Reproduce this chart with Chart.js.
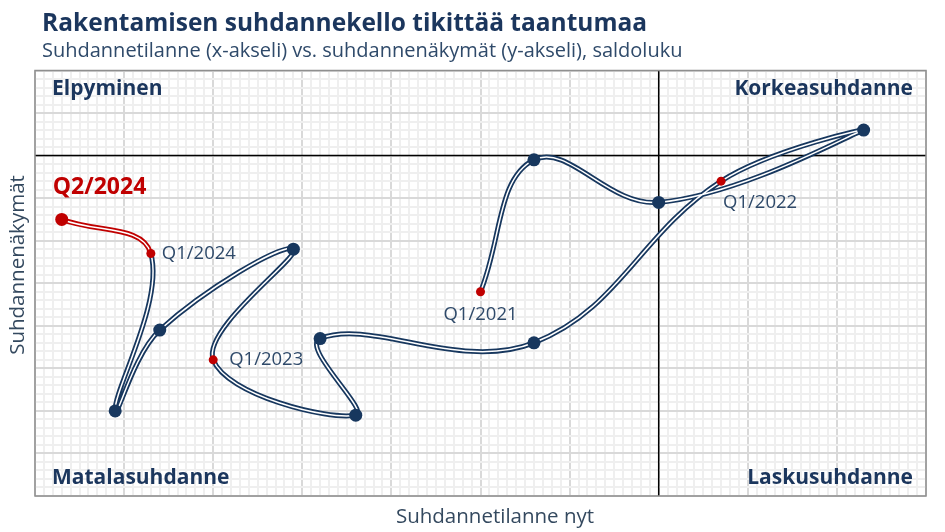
<!DOCTYPE html>
<html>
<head>
<meta charset="utf-8">
<script src="https://cdn.jsdelivr.net/npm/chart.js@4.4.1/dist/chart.umd.min.js"></script>
<style>
  html, body { margin: 0; padding: 0; background: #fff; }
</style>
</head>
<body>
<canvas id="clock" width="945" height="532"></canvas>
<script>
// quarters, in drawing order
const periods = ['Q1/2021', 'Q2/2021', 'Q3/2021', 'Q4/2021',
                 'Q1/2022', 'Q2/2022', 'Q3/2022', 'Q4/2022',
                 'Q1/2023', 'Q2/2023', 'Q3/2023', 'Q4/2023',
                 'Q1/2024', 'Q2/2024'];
// x: suhdannetilanne nyt, y: suhdannenäkymät (saldoluku)
const situationNow = [-20, -14, 0, 23, 7, -14, -38, -34, -50, -41, -56, -61, -57, -67];
const outlook = [-32, -1, -11, 6, -6, -44, -43, -61, -48, -22, -41, -60, -23, -15];
const quadrants = ['Elpyminen', 'Korkeasuhdanne', 'Matalasuhdanne', 'Laskusuhdanne'];

const navy = '#17375e';
const red = '#c00000';
const last = periods.length - 1;
const isQ1 = periods.map(p => p.startsWith('Q1'));

const points = situationNow.map((v, i) => ({ x: v, y: outlook[i] }));

// where the period labels sit relative to their dot
const labelSpots = {
    0: { dx: 0, dy: 23, align: 'center' },
    4: { dx: 2, dy: 22, align: 'left' },
    8: { dx: 16, dy: 0, align: 'left' },
    12: { dx: 11, dy: 0, align: 'left' },
    13: { dx: -9, dy: -32, align: 'left', bold: true }
};

const frameAndAxes = {
    id: 'frameAndAxes',
    beforeDatasetsDraw(chart) {
        const { ctx, chartArea: a, scales: { x, y } } = chart;
        const x0 = x.getPixelForValue(0);
        const y0 = y.getPixelForValue(0);
        ctx.save();
        ctx.strokeStyle = '#000';
        ctx.lineWidth = 1.5;
        ctx.beginPath();
        ctx.moveTo(x0, a.top); ctx.lineTo(x0, a.bottom);
        ctx.moveTo(a.left, y0); ctx.lineTo(a.right, y0);
        ctx.stroke();
        ctx.strokeStyle = '#8f8f8f';
        ctx.strokeRect(a.left, a.top, a.width, a.height);
        ctx.restore();
    }
};

const texts = {
    id: 'texts',
    afterDraw(chart) {
        const { ctx, chartArea: a, scales: { x, y } } = chart;
        ctx.save();
        ctx.textBaseline = 'alphabetic';
        ctx.textAlign = 'left';
        ctx.fillStyle = '#1b365d';
        ctx.font = 'bold 24.5px "Open Sans"';
        ctx.fillText('Rakentamisen suhdannekello tikittää taantumaa', 42, 31);
        ctx.fillStyle = '#2f4a6a';
        ctx.font = '20px "Open Sans"';
        ctx.fillText('Suhdannetilanne (x-akseli) vs. suhdannenäkymät (y-akseli), saldoluku', 42, 57);

        // quadrant names
        ctx.fillStyle = '#1b365d';
        ctx.font = 'bold 21px "Open Sans"';
        ctx.textBaseline = 'middle';
        ctx.textAlign = 'left';
        ctx.fillText(quadrants[0], a.left + 17, a.top + 19);
        ctx.fillText(quadrants[2], a.left + 17, a.bottom - 18);
        ctx.textAlign = 'right';
        ctx.fillText(quadrants[1], a.right - 13, a.top + 19);
        ctx.fillText(quadrants[3], a.right - 13, a.bottom - 18);

        // axis titles
        ctx.fillStyle = '#34495f';
        ctx.font = '20.5px "Open Sans"';
        ctx.textBaseline = 'alphabetic';
        ctx.textAlign = 'center';
        ctx.fillText('Suhdannetilanne nyt', 495, 523);
        ctx.save();
        ctx.translate(24, 265);
        ctx.rotate(-Math.PI / 2);
        ctx.fillText('Suhdannenäkymät', 0, 0);
        ctx.restore();

        // period labels
        ctx.textBaseline = 'middle';
        Object.keys(labelSpots).forEach(k => {
            const i = +k;
            const s = labelSpots[i];
            const px = x.getPixelForValue(situationNow[i]);
            const py = y.getPixelForValue(outlook[i]);
            ctx.textAlign = s.align;
            if (s.bold) {
                ctx.font = 'bold 23px "Open Sans"';
                ctx.fillStyle = red;
            } else {
                ctx.font = '18.5px "Open Sans"';
                ctx.fillStyle = '#2f4a6a';
            }
            ctx.fillText(periods[i], px + s.dx, py + s.dy);
        });
        ctx.restore();
    }
};

function gridColor(c) {
    const v = c.tick.value;
    return v % 10 === 0 ? '#d9d9d9' : '#efefef';
}

new Chart(document.getElementById('clock'), {
    type: 'scatter',
    data: {
        datasets: [
            {
                data: points,
                showLine: true,
                tension: 0.4,
                borderWidth: 5,
                borderColor: navy,
                segment: { borderColor: s => s.p0DataIndex === last - 1 ? red : navy },
                pointRadius: 0,
                order: 3
            },
            {
                data: points,
                showLine: true,
                tension: 0.4,
                borderWidth: 1.5,
                borderColor: '#fff',
                pointRadius: 0,
                order: 2
            },
            {
                data: points,
                showLine: false,
                pointRadius: periods.map((p, i) => (isQ1[i] && i !== last) ? 4.5 : 6.5),
                pointBackgroundColor: periods.map((p, i) => (isQ1[i] || i === last) ? red : navy),
                pointBorderWidth: 0,
                order: 1
            }
        ]
    },
    options: {
        responsive: false,
        animation: false,
        layout: { padding: { left: 35, right: 19, top: 70.5, bottom: 36 } },
        plugins: {
            legend: { display: false },
            tooltip: { enabled: false }
        },
        scales: {
            x: {
                type: 'linear',
                min: -70,
                max: 30,
                ticks: { display: false, stepSize: 1 },
                grid: { drawTicks: false, color: gridColor, lineWidth: 2 },
                border: { display: false }
            },
            y: {
                type: 'linear',
                min: -80,
                max: 20,
                ticks: { display: false, stepSize: 2 },
                grid: { drawTicks: false, color: gridColor, lineWidth: 2 },
                border: { display: false }
            }
        }
    },
    plugins: [frameAndAxes, texts]
});
</script>
</body>
</html>
